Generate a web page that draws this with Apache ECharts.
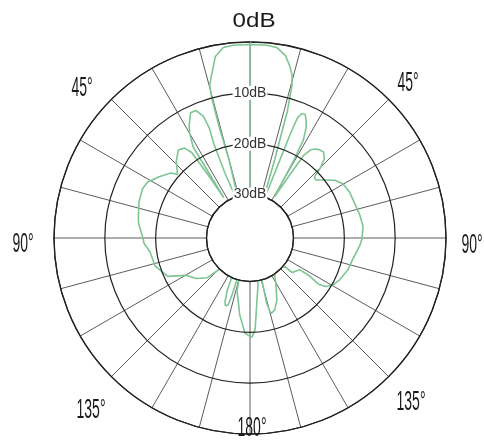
<!DOCTYPE html>
<html>
<head>
<meta charset="utf-8">
<style>
  html, body { margin: 0; padding: 0; background: #fff; }
  #chart { width: 484px; height: 443px; }
</style>
<script src="https://cdn.jsdelivr.net/npm/echarts@6/dist/echarts.min.js"></script>
</head>
<body>
<div id="chart"></div>
<script>
// Azimuth (degrees, clockwise from top) in path order
const angles = [0,5,8,11,13,14.5,15.4,16.4,16.8,17.5,18.5,19.5,20.5,21,21.2,21.6,22.5,24,25.5,27,28.6,29.5,30,30.8,32,33,34.5,36,38,40.5,43,45,46.5,48.5,50,53,56,59.5,65,71,78,84,90,94,101.5,108,115,119.5,122.7,124,122.4,122.6,129.2,129.5,136,141.6,147,151.3,156.7,161,164.5,165.7,164,163,168,170.3,174.1,176.8,179,180,
  183,187.6,194,195.5,197,197.5,197.5,198,200,201.4,203.5,204.6,210,213,218,221.4,224.7,227,233,239.7,245,253.6,262,267,270,277,279.4,287.8,294.6,298.7,304,309.4,311.2,316.2,321,324,325.7,326.4,327,327.7,328,330,331.7,334.6,337,339,339.7,339,338.9,339.8,342,343.4,345,344.5,344.7,345.2,346,347.8,349.2,352,355,360];
// Relative gain (dB)
const gains = [-0.5,-0.5,-0.7,-2.0,-3.8,-5.5,-7.5,-12.5,-17.3,-22.4,-29.1,-30.2,-28.0,-21.3,-16.3,-13.1,-12.1,-11.9,-12.9,-14.2,-16.7,-21.3,-26.4,-29.1,-24.7,-19.2,-17.5,-16.9,-16.5,-16.3,-17.1,-18.8,-21.1,-21.3,-20.8,-19.6,-18.3,-17.4,-17.0,-16.9,-16.5,-16.2,-16.5,-16.9,-17.9,-18.3,-19.1,-19.8,-20.9,-22.3,-24.9,-27.0,-27.8,-29.6,-30.4,-30.7,-29.6,-27.9,-25.2,-23.6,-23.1,-25.3,-30.2,-35.1,-32.4,-29.2,-25.6,-20.5,-19.0,-18.8,
  -19.8,-23.3,-28.0,-31.3,-36.7,-30.0,-26.9,-24.7,-24.4,-25.1,-27.3,-29.6,-30.9,-31.3,-31.3,-31.2,-29.7,-27.1,-25.3,-24.0,-20.7,-19.1,-18.7,-17.7,-17.5,-16.5,-16.3,-15.6,-15.3,-15.6,-17.0,-18.4,-19.6,-17.6,-16.2,-16.7,-18.2,-23.6,-29.1,-23.6,-17.5,-14.8,-13.3,-11.3,-11.3,-12.9,-15.4,-18.7,-24.9,-28.4,-30.2,-29.8,-22.4,-16.0,-10.0,-7.6,-6.5,-4.2,-2.2,-0.7,-0.5,-0.5];
// Ring tick values (dB) and angle labels
const ringTicks = [-30, -20, -10, 0];
const angleLabels = ['0dB', '45°', '45°', '90°', '90°', '135°', '135°', '180°'];

const chart = echarts.init(document.getElementById('chart'), null, { renderer: 'canvas' });

const labelPos = [
  [254, 21], [82, 88], [408, 83], [23, 244], [472, 245], [91, 410], [411, 402], [252, 428]
];

const graphics = angleLabels.map((t, i) => {
  const first = i === 0;
  return {
    type: 'text',
    x: labelPos[i][0],
    y: labelPos[i][1],
    scaleX: first ? 1.15 : 0.5,
    z: 100,
    style: {
      text: t,
      fontSize: first ? 21 : 28,
      fontFamily: 'Liberation Sans, Arial, sans-serif',
      fill: '#1a1a1a',
      align: 'center',
      verticalAlign: 'middle'
    }
  };
});

chart.setOption({
  backgroundColor: '#ffffff',
  animation: false,
  polar: { center: [250, 238], radius: [43.5, 196] },
  angleAxis: {
    type: 'value',
    min: 0,
    max: 360,
    interval: 15,
    startAngle: 90,
    clockwise: true,
    axisLine: { show: true, lineStyle: { color: '#222', width: 1.3 } },
    axisTick: { show: false },
    axisLabel: { show: false },
    splitLine: { show: true, lineStyle: { color: '#4a4a4a', width: 0.9 } }
  },
  radiusAxis: {
    type: 'value',
    min: ringTicks[0],
    max: ringTicks[ringTicks.length - 1],
    interval: 10,
    z: 10,
    axisLine: { show: true, lineStyle: { color: '#8db99a', width: 1.2 } },
    axisTick: { show: false },
    axisLabel: {
      show: true,
      margin: 0,
      align: 'center',
      verticalAlign: 'middle',
      fontSize: 14,
      fontFamily: 'Liberation Sans, Arial, sans-serif',
      color: '#333',
      backgroundColor: '#fff',
      padding: [0, 1],
      formatter: v => (v === 0 ? '' : (-v) + 'dB')
    },
    splitLine: { show: true, lineStyle: { color: '#222', width: 1.2 } }
  },
  series: [{
    type: 'line',
    coordinateSystem: 'polar',
    clip: false,
    showSymbol: false,
    smooth: false,
    lineStyle: { color: '#7dc593', width: 1.6 },
    data: angles.map((a, i) => [gains[i], a])
  }],
  graphic: { elements: graphics }
});
</script>
</body>
</html>
